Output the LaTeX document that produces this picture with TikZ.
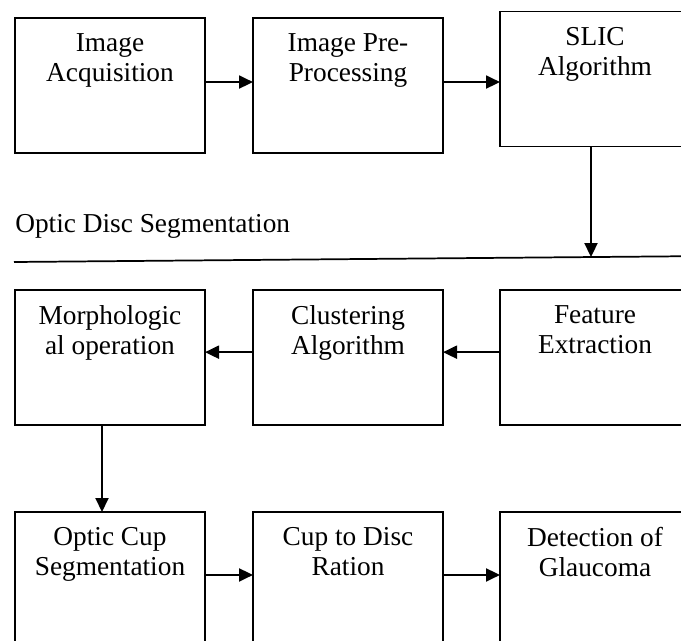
\documentclass[tikz,border=0pt]{standalone}
\usepackage{fontspec}
\setmainfont{Liberation Serif}
\usetikzlibrary{positioning,arrows.meta}

\begin{document}
\begin{tikzpicture}[x=0.75pt,y=-0.75pt,
  every node/.style={font=\fontsize{20.5}{22.5}\selectfont},
  blk/.style={draw,line width=1.3pt,outer sep=0pt,
    minimum width=142.5pt,minimum height=101.25pt},
  blktext/.style={anchor=north,align=center,inner sep=0pt,yshift=-11.45pt,
    execute at begin node=\strut},
  arr/.style={line width=1.5pt,-{Triangle[length=10.5pt,width=9.75pt]}}]

  \useasboundingbox (0,0) rectangle (681,641);
  \clip (0,0) rectangle (681,641);

  % first row
  \node[blk,label={[blktext]north:Image\\Acquisition}] (acq) at (110,85.5) {};
  \node[blk,right=36pt of acq,label={[blktext]north:Image Pre-\\Processing}] (pre) {};
  \node[blk,right=42.75pt of pre,yshift=4.9pt,label={[blktext]north:SLIC\\Algorithm}] (slic) {};

  % segmentation line
  \node[anchor=base west,inner sep=0pt] (odseg) at (15,233) {Optic Disc Segmentation};
  \coordinate (sepL) at (14,262);
  \coordinate (sepR) at (690,256.2);
  \coordinate (hit) at (591,257.05);
  \draw[line width=1.3pt] (sepL) -- (sepR);

  % second row
  \node[blk,below=102.75pt of acq,label={[blktext]north:Morphologic\\al operation}] (morph) {};
  \node[blk,right=36pt of morph,label={[blktext]north:Clustering\\Algorithm}] (clust) {};
  \node[blk,right=42.75pt of clust,label={[blktext]north:Feature\\Extraction}] (feat) {};

  % third row
  \node[blk,below=65.25pt of morph,label={[blktext]north:Optic Cup\\Segmentation}] (cup) {};
  \node[blk,right=36pt of cup,label={[blktext]north:Cup to Disc\\Ration}] (ratio) {};
  \node[blk,right=42.75pt of ratio,label={[blktext]north:Detection of\\Glaucoma}] (detect) {};

  \draw[arr] ([yshift=2.6pt]acq.east) -- ([yshift=2.6pt]pre.west);
  \draw[arr] ([yshift=2.6pt]pre.east) -- ([yshift=2.6pt]pre.east -| slic.west);
  \draw[arr] (slic.south -| hit) -- (hit);

  \draw[arr] ([yshift=4pt]feat.west) -- ([yshift=4pt]clust.east);
  \draw[arr] ([yshift=4pt]clust.west) -- ([yshift=4pt]morph.east);
  \draw[arr] ([xshift=-6pt]morph.south) -- ([xshift=-6pt]cup.north);

  \draw[arr] ([yshift=3.4pt]cup.east) -- ([yshift=3.4pt]ratio.west);
  \draw[arr] ([yshift=3.4pt]ratio.east) -- ([yshift=3.4pt]detect.west);

\end{tikzpicture}
\end{document}
